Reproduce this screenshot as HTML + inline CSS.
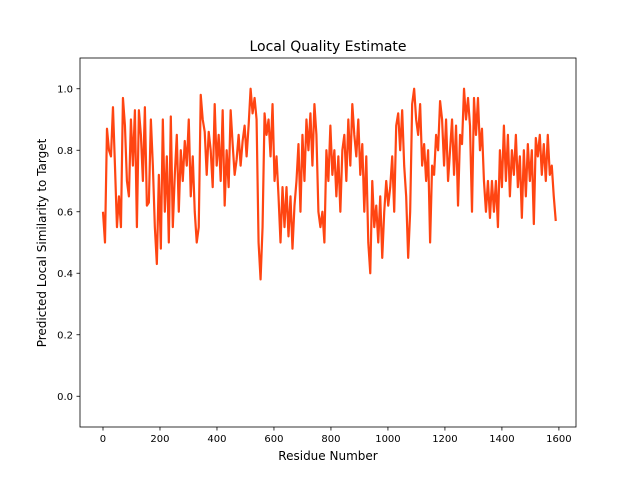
<!DOCTYPE html>
<html><head><meta charset="utf-8"><style>
body{margin:0;background:#fff;}
svg{display:block;font-family:"DejaVu Sans","Liberation Sans",sans-serif;}
</style></head><body>
<svg id="chart" width="640" height="480">
<text x="328" y="51" text-anchor="middle" font-size="14">Local Quality Estimate</text>
<text x="328" y="460" text-anchor="middle" font-size="12">Residue Number</text>
<text transform="translate(46,243) rotate(-90)" text-anchor="middle" font-size="12">Predicted Local Similarity to Target</text>
<g id="ticks"></g>
<g id="series"></g>
<rect x="80" y="58" width="496" height="369" fill="none" stroke="#000" stroke-width="0.8"/>
</svg>
<script>
const xTicks=[0,200,400,600,800,1000,1200,1400,1600];
const yTicks=[0.0,0.2,0.4,0.6,0.8,1.0];
const residueStep=7;
const values=[0.6,0.5,0.87,0.8,0.78,0.94,0.75,0.55,0.65,0.55,0.97,0.88,0.7,0.65,0.9,0.75,0.93,0.55,0.93,0.85,0.7,0.94,0.62,0.63,0.9,0.75,0.55,0.43,0.72,0.48,0.9,0.6,0.78,0.5,0.91,0.55,0.72,0.85,0.6,
0.8,0.7,0.83,0.75,0.9,0.65,0.78,0.6,0.5,0.55,0.98,0.9,0.86,0.72,0.86,0.8,0.68,0.95,0.75,0.85,0.7,0.93,0.62,0.8,0.68,0.93,0.82,0.72,0.77,0.85,0.75,0.83,0.88,0.78,0.88,1.0,0.92,0.97,0.9,0.5,0.38,0.55,0.92,0.85,0.9,0.78,0.95,0.7,0.78,0.65,0.5,0.68,0.55,0.68,0.52,0.65,0.48,0.62,0.7,0.82,0.6,0.85,0.7,0.9,0.8,0.92,0.75,0.95,0.85,0.6,0.55,0.6,0.5,0.8,0.7,0.88,0.72,0.8,0.65,0.78,0.6,0.8,0.85,0.7,0.9,0.75,0.95,0.85,0.78,0.9,0.72,0.82,0.6,0.78,0.5,0.4,0.7,0.55,0.62,0.5,0.65,0.45,0.6,0.7,0.62,0.68,0.78,0.6,0.88,0.92,0.8,0.93,0.75,0.65,0.45,0.6,0.95,1.0,0.9,0.85,0.95,0.75,0.82,0.7,0.8,0.5,0.75,0.72,0.85,0.8,0.96,0.9,0.75,0.9,0.7,0.8,0.9,0.72,0.88,0.62,0.85,0.82,1.0,0.9,0.97,0.88,0.6,0.97,0.85,0.97,0.8,0.87,0.7,0.6,0.7,0.58,0.7,0.6,0.7,0.55,0.8,0.68,0.88,0.7,0.85,0.65,0.8,0.72,0.85,0.68,0.78,0.58,0.8,0.65,0.82,0.7,0.8,0.56,0.84,0.78,0.85,0.72,0.82,0.7,0.85,0.72,0.75,0.65,0.57];
const X0=80,X1=576,Y0=58,Y1=427,xmin=-80.7,xmax=1660,ymin=-0.1,ymax=1.1;
function sx(v){return X0+(v-xmin)/(xmax-xmin)*(X1-X0);}
function sy(v){return Y1-(v-ymin)/(ymax-ymin)*(Y1-Y0);}
const NS='http://www.w3.org/2000/svg';
const tg=document.getElementById('ticks');
xTicks.forEach(t=>{
 const l=document.createElementNS(NS,'line');
 
 
 l.setAttribute('x1',sx(t));l.setAttribute('x2',sx(t));l.setAttribute('y1',Y1);l.setAttribute('y2',Y1+3.5);l.setAttribute('stroke','#000');l.setAttribute('stroke-width','0.8');tg.appendChild(l);
 const tx=document.createElementNS(NS,'text');
 
 
 tx.setAttribute('x',sx(t));tx.setAttribute('y',Y1+15);tx.setAttribute('text-anchor','middle');tx.setAttribute('font-size','10');tx.textContent=t;tg.appendChild(tx);
});
yTicks.forEach(t=>{
 const l=document.createElementNS(NS,'line');
 
 
 l.setAttribute('x1',X0-3.5);l.setAttribute('x2',X0);l.setAttribute('y1',sy(t));l.setAttribute('y2',sy(t));l.setAttribute('stroke','#000');l.setAttribute('stroke-width','0.8');tg.appendChild(l);
 const tx=document.createElementNS(NS,'text');
 
 
 tx.setAttribute('x',X0-7);tx.setAttribute('y',sy(t)+3.5);tx.setAttribute('text-anchor','end');tx.setAttribute('font-size','10');tx.textContent=t.toFixed(1);tg.appendChild(tx);
});
const pts=values.map((v,i)=>sx(i*residueStep).toFixed(2)+','+sy(v).toFixed(2)).join(' ');
const pl=document.createElementNS(NS,'polyline');


pl.setAttribute('points',pts);pl.setAttribute('fill','none');pl.setAttribute('stroke','#ff4512');pl.setAttribute('stroke-width','2.2');pl.setAttribute('stroke-linejoin','round');
document.getElementById('series').appendChild(pl);
</script>
</body></html>
